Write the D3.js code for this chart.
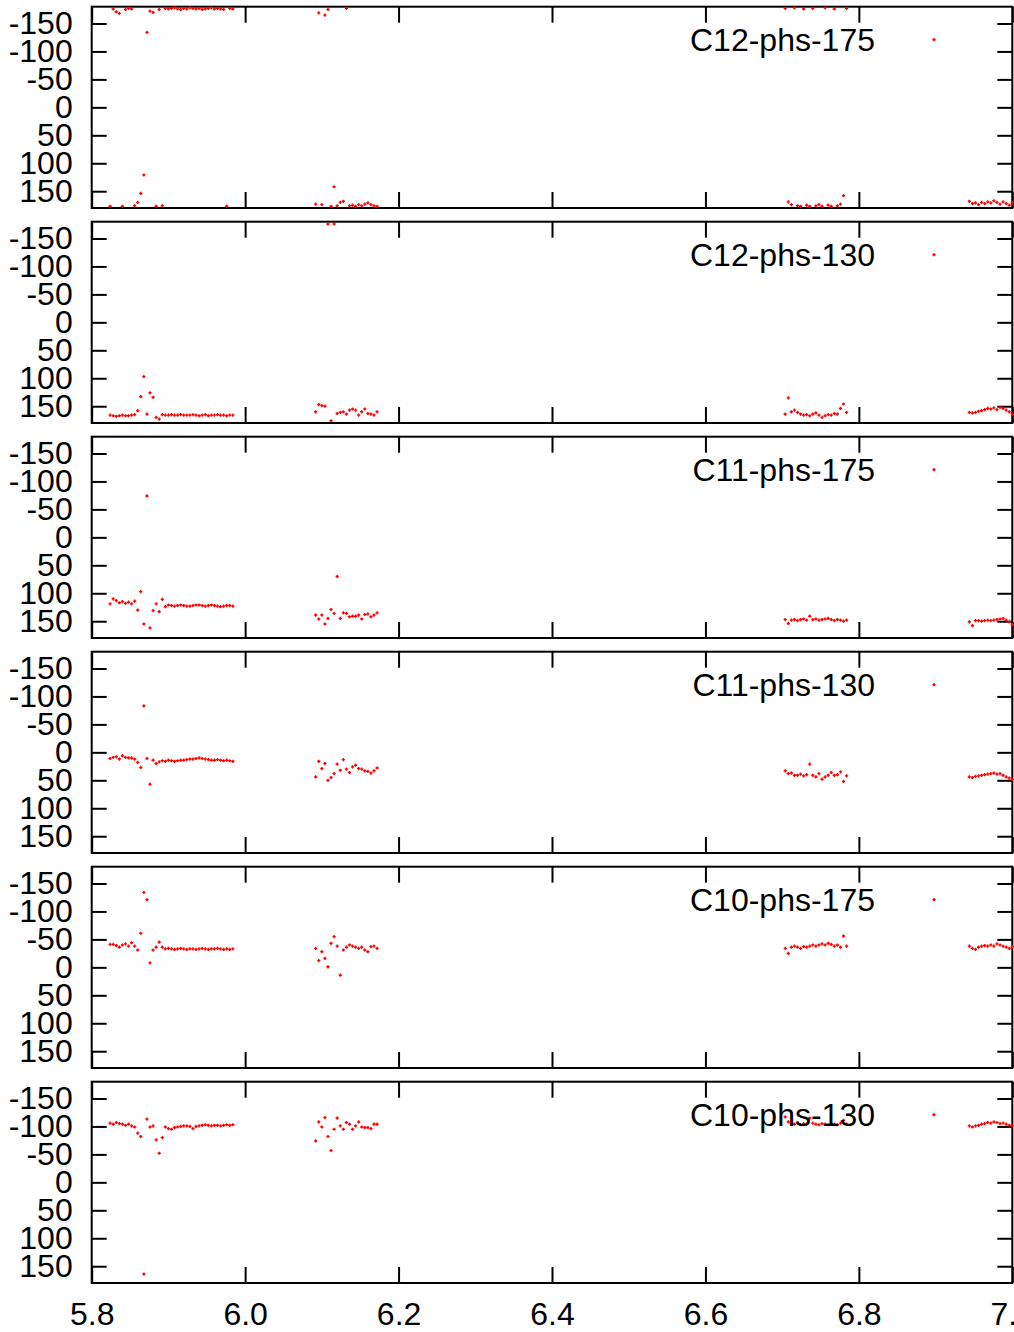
<!DOCTYPE html>
<html>
<head>
<meta charset="utf-8">
<script src="https://cdn.jsdelivr.net/npm/d3@7"></script>
<style>
	body { margin: 0; background: white; }
	svg { display: block; font-family: "Liberation Sans", Arial, sans-serif; }
</style>
</head>
<body>
<svg id="chart" width="1014" height="1332"></svg>
<script>

// Sample positions of the four recorded stretches (same for all panels)
let xA = [5.824, 5.828, 5.832, 5.836, 5.840, 5.844, 5.848, 5.852, 5.856, 5.860, 5.864, 5.868, 5.872, 5.876, 5.880, 5.884, 5.888, 5.892, 5.896, 5.900, 5.904, 5.908, 5.912, 5.916, 5.920, 5.924, 5.928, 5.932, 5.936, 5.940, 5.944, 5.948, 5.952, 5.956, 5.960, 5.964, 5.968, 5.972, 5.976, 5.980, 5.984]
let xB = [6.092, 6.096, 6.100, 6.104, 6.108, 6.112, 6.116, 6.120, 6.124, 6.128, 6.132, 6.136, 6.140, 6.144, 6.148, 6.152, 6.156, 6.160, 6.164, 6.168, 6.172]
let xC = [6.704, 6.708, 6.712, 6.716, 6.720, 6.724, 6.728, 6.732, 6.736, 6.740, 6.744, 6.748, 6.752, 6.756, 6.760, 6.764, 6.768, 6.772, 6.776, 6.780, 6.784]
let xD = [6.944, 6.948, 6.952, 6.956, 6.960, 6.964, 6.968, 6.972, 6.976, 6.980, 6.984, 6.988, 6.992, 6.996, 7.000]

let labels = ["C12-phs-175", "C12-phs-130", "C11-phs-175", "C11-phs-130", "C10-phs-175", "C10-phs-130"]

// phase values, one array per stretch
let c12_175 = [
	[177, -176, -171, -168, 177, -175, -177, -176, 176, 170, 154, 121, -134, -172, -170, 177, -175, 176, -177, -176, -177, -178, -176, -175, -177, -176, -178, -177, -176, -177, -175, -176, -177, -178, -176, -177, -176, -175, 177, -177, -176],
	[173, -169, 174, -165, -175, 177, 142, 176, 170, 168, -177, 176, 175, 177, 174, 176, 173, 171, 174, 176, 177],
	[-177, 169, 174, -178, 176, 177, -176, 175, 177, -177, 176, 174, 177, -178, 175, 177, -176, 176, 173, 158, -177],
	[168, 172, 171, 174, 170, 172, 169, 171, 167, 170, 173, 169, 172, 175, 171]
]
let c12_130 = [
	[166, 167, 168, 167, 166, 167, 167, 166, 165, 158, 133, 97, 164, 126, 134, 170, 173, 165, 166, 166, 165, 166, 166, 165, 166, 166, 166, 165, 166, 167, 166, 165, 167, 166, 166, 165, 166, 166, 167, 166, 166],
	[160, 147, 149, 150, -176, 176, -176, 163, 161, 160, 164, 157, 155, 157, 166, 160, 155, 163, 164, 166, 160],
	[164, 135, 160, 157, 161, 164, 166, 165, 167, 164, 162, 166, 170, 167, 165, 166, 163, 164, 154, 146, 161],
	[161, 162, 161, 159, 158, 156, 154, 155, 153, 156, 152, 154, 157, 160, 164]
]
let c11_175 = [
	[119, 110, 113, 117, 115, 118, 116, 119, 114, 130, 97, 155, -74, 162, 131, 119, 133, 111, 124, 121, 122, 123, 122, 121, 122, 123, 123, 122, 121, 121, 122, 123, 122, 121, 122, 123, 124, 123, 122, 122, 123],
	[139, 146, 139, 155, 145, 129, 136, 70, 145, 135, 136, 142, 141, 141, 139, 146, 138, 137, 142, 139, 135],
	[147, 154, 148, 147, 149, 147, 146, 148, 141, 147, 146, 148, 147, 146, 145, 147, 149, 147, 148, 150, 148],
	[151, 158, 149, 149, 150, 149, 148, 149, 148, 147, 146, 145, 148, 151, 156]
]
let c11_130 = [
	[11, 9, 8, 12, 6, 9, 10, 10, 12, 18, 27, -83, 11, 57, 14, 20, 17, 15, 16, 14, 15, 16, 15, 14, 14, 13, 12, 12, 11, 10, 11, 12, 13, 14, 14, 13, 14, 15, 14, 15, 16],
	[44, 16, 29, 20, 50, 45, 38, 21, 32, 13, 30, 36, 26, 23, 29, 30, 33, 34, 37, 33, 28],
	[33, 38, 37, 41, 41, 39, 42, 40, 21, 41, 44, 38, 48, 44, 41, 36, 41, 40, 35, 52, 42],
	[44, 45, 43, 42, 41, 40, 39, 38, 37, 39, 38, 41, 44, 46, 49]
]
let c10_175 = [
	[-41, -41, -39, -36, -40, -42, -38, -44, -38, -31, -61, -134, -121, -8, -31, -36, -45, -36, -33, -34, -33, -32, -33, -34, -33, -32, -33, -33, -32, -33, -34, -33, -32, -33, -33, -34, -33, -32, -33, -32, -33],
	[-34, -12, -28, -16, -1, -43, -55, -38, 14, -31, -36, -40, -38, -36, -34, -36, -31, -28, -37, -38, -34],
	[-34, -25, -36, -38, -36, -34, -37, -36, -38, -40, -38, -40, -42, -40, -43, -41, -38, -40, -36, -56, -38],
	[-38, -34, -32, -36, -38, -39, -38, -40, -38, -42, -40, -38, -36, -34, -37]
]
let c10_130 = [
	[-106, -104, -107, -105, -104, -102, -104, -101, -99, -88, -82, 164, -113, -99, -101, -76, -52, -80, -99, -96, -95, -98, -99, -100, -101, -101, -100, -96, -100, -101, -102, -103, -102, -101, -102, -102, -101, -102, -103, -102, -103],
	[-74, -108, -99, -116, -82, -57, -95, -115, -101, -95, -107, -104, -95, -101, -108, -99, -98, -98, -96, -104, -104],
	[-117, -108, -105, -104, -106, -103, -105, -104, -115, -106, -104, -103, -105, -104, -103, -105, -104, -103, -106, -111, -104],
	[-101, -99, -101, -102, -104, -105, -107, -106, -108, -107, -105, -106, -104, -102, -101]
]

let xTicks = [5.8, 6.0, 6.2, 6.4, 6.6, 6.8, 7.0]
let yTicks = [-150, -100, -50, 0, 50, 100, 150]

let panels = [c12_175, c12_130, c11_175, c11_130, c10_175, c10_130]
let xsegs = [xA, xB, xC, xD]

// layout
let left = 91.7, right = 1012.3
let top0 = 6.7, pitch = 215, ph = 201.3
let fs = 32

let svg = d3.select("#chart")

let x = d3.scaleLinear().domain([5.8, 7.0]).range([left, right])
let y = d3.scaleLinear().domain([-180, 180]).range([0, ph])

let plus = "M-1.6,0H1.6M0,-1.6V1.6"

panels.forEach(function(segs, p){

	let g = svg.append("g").attr("transform", "translate(0," + (top0 + p*pitch) + ")")

	// ticks, all pointing inward (plain hyphen for the minus, like gnuplot)
	g.append("g")
		.attr("transform", "translate(" + left + ",0)")
		.call(d3.axisLeft(y).tickValues(yTicks).tickSize(-15).tickPadding(19).tickFormat(d => String(d)))
	g.append("g")
		.attr("transform", "translate(" + right + ",0)")
		.call(d3.axisRight(y).tickValues(yTicks).tickSize(-15).tickFormat(""))
	g.append("g")
		.call(d3.axisTop(x).tickValues(xTicks).tickSize(-16).tickFormat(""))
	let bottom = d3.axisBottom(x).tickValues(xTicks).tickSize(-16).tickPadding(19)
	if (p < panels.length - 1) bottom.tickFormat("")
	else bottom.tickFormat(d3.format(".1f"))
	g.append("g")
		.attr("transform", "translate(0," + ph + ")")
		.call(bottom)

	g.selectAll(".domain").remove()
	g.selectAll(".tick line").attr("stroke", "black").attr("stroke-width", 2)
	g.selectAll(".tick text")
		.attr("fill", "black")
		.style("font-size", fs + "px")
		.style("font-family", "'Liberation Sans', Arial, sans-serif")

	// frame
	g.append("rect")
		.attr("x", left).attr("y", 0)
		.attr("width", right - left).attr("height", ph)
		.attr("fill", "none").attr("stroke", "black").attr("stroke-width", 2)

	// the points
	let pts = []
	segs.forEach(function(vals, s){
		vals.forEach(function(v, i){ pts.push([xsegs[s][i], v]) })
	})
	g.append("g").selectAll("path")
		.data(pts)
		.enter()
		.append("path")
			.attr("d", plus)
			.attr("transform", d => "translate(" + x(d[0]) + "," + y(d[1]) + ")")
			.attr("stroke", "red")
			.attr("stroke-width", 1.4)

	// key
	g.append("text")
		.attr("x", 875).attr("y", 44)
		.attr("text-anchor", "end")
		.style("font-size", fs + "px")
		.text(labels[p])
	g.append("path")
		.attr("d", plus)
		.attr("transform", "translate(934,33)")
		.attr("stroke", "red")
		.attr("stroke-width", 1.4)

}) // panels

</script>
</body>
</html>
